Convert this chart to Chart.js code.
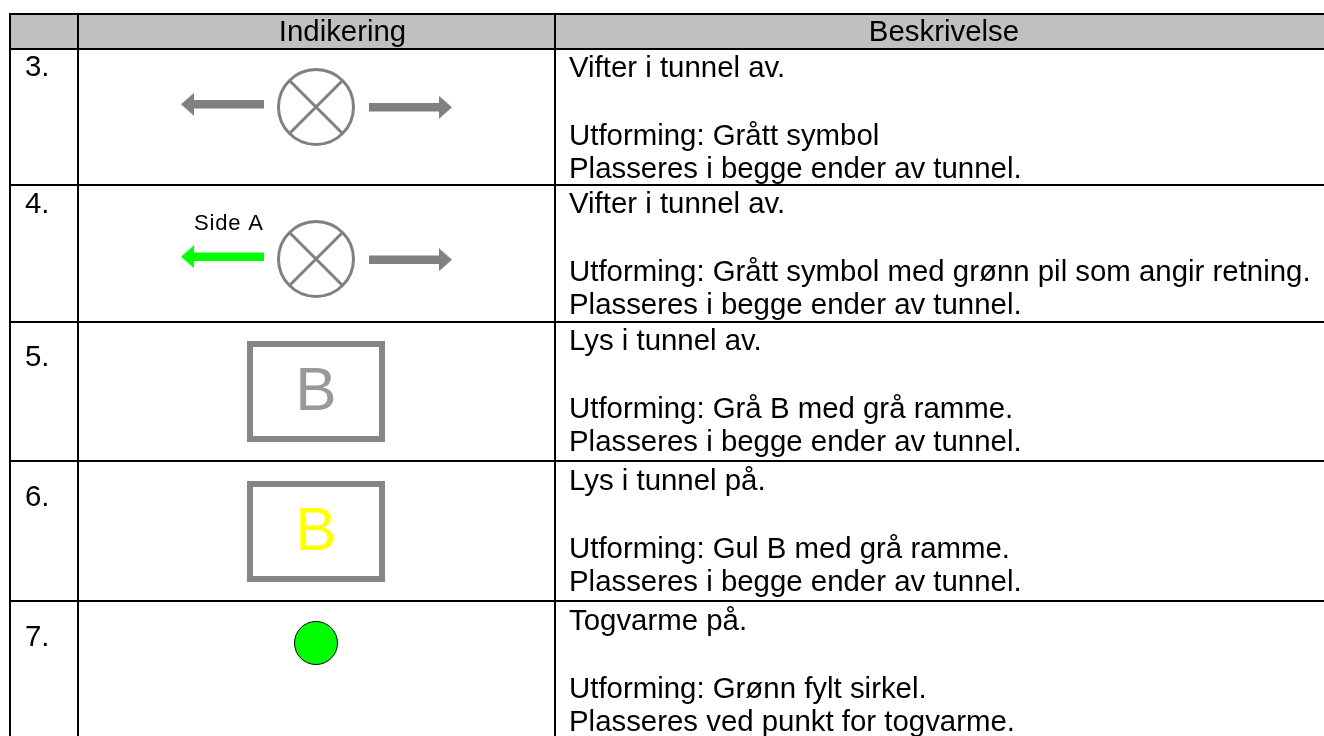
<!DOCTYPE html>
<html><head><meta charset="utf-8">
<style>html,body{margin:0;padding:0;background:#fff}canvas{display:block}</style>
<script src="https://cdn.jsdelivr.net/npm/chart.js@4"></script></head>
<body><div style="width:1324px;height:736px"><canvas id="c"></canvas></div>
<script>
const columnLines=[10,78,555];
const rowLines=[14,49,185,322,461,601];
const headerLabels=['Indikering','Beskrivelse'];
const headerCentres=[342.5,944];
const rowLabels=['3.','4.','5.','6.','7.'];
const rowLabelBaselines=[76,212.5,366,506,646];
const descriptions=[
 ['Vifter i tunnel av.','','Utforming: Grått symbol','Plasseres i begge ender av tunnel.'],
 ['Vifter i tunnel av.','','Utforming: Grått symbol med grønn pil som angir retning.','Plasseres i begge ender av tunnel.'],
 ['Lys i tunnel av.','','Utforming: Grå B med grå ramme.','Plasseres i begge ender av tunnel.'],
 ['Lys i tunnel på.','','Utforming: Gul B med grå ramme.','Plasseres i begge ender av tunnel.'],
 ['Togvarme på.','','Utforming: Grønn fylt sirkel.','Plasseres ved punkt for togvarme.']
];
const descriptionTops=[77,213,350,490,630];
const descriptionLineOffsets=[0,34,68,101];
const fanCentres=[{x:316,y:107},{x:316,y:259}];
const arrows=[
 {from:[264,104.3],to:[181,104.3],color:'#808080'},
 {from:[369,107.3],to:[452,107.3],color:'#808080'},
 {from:[264,256.7],to:[181,256.7],color:'#00ff00'},
 {from:[369,259.7],to:[452,259.7],color:'#808080'}
];
const frames=[{l:250,r:382,t:344,b:439},{l:250,r:382,t:484,b:579}];
const frameLetters=[{t:'B',x:316,y:410,c:'#999999'},{t:'B',x:316,y:550,c:'#ffff00'}];
const lampCentre=[{x:316,y:643}];
const sideLabel={t:'Side A',x:194,y:230};

function head(color,dir){
 const cv=document.createElement('canvas');cv.width=13;cv.height=23;
 const g=cv.getContext('2d');g.fillStyle=color;g.beginPath();
 if(dir>0){g.moveTo(0,0);g.lineTo(13,11.5);g.lineTo(0,23);}else{g.moveTo(13,0);g.lineTo(0,11.5);g.lineTo(13,23);}
 g.closePath();g.fill();return cv;
}
const datasets=[];
datasets.push({data:[{x:10,y:31.5},{x:1324,y:31.5}],borderColor:'#c0c0c0',borderWidth:34,pointRadius:0,borderCapStyle:'butt'});
arrows.forEach(a=>{
 const d=a.to[0]>a.from[0]?1:-1;
 datasets.push({data:[{x:a.from[0],y:a.from[1]},{x:a.to[0]-d*8,y:a.to[1]}],borderColor:a.color,borderWidth:8.5,pointRadius:0});
 datasets.push({data:[{x:a.to[0]-d*6.5,y:a.to[1]}],pointStyle:head(a.color,d),showLine:false});
});
datasets.push({data:fanCentres,pointStyle:'circle',pointRadius:37.5,pointBorderWidth:3,pointBorderColor:'#808080',pointBackgroundColor:'rgba(0,0,0,0)',showLine:false});
datasets.push({data:fanCentres,pointStyle:'crossRot',pointRadius:37.5,pointBorderWidth:3,pointBorderColor:'#808080',showLine:false});
frames.forEach(f=>datasets.push({data:[{x:(f.l+f.r)/2,y:f.t},{x:f.r,y:f.t},{x:f.r,y:f.b},{x:f.l,y:f.b},{x:f.l,y:f.t},{x:(f.l+f.r)/2,y:f.t}],borderColor:'#868686',borderWidth:6,pointRadius:0,borderJoinStyle:'miter'}));
datasets.push({data:lampCentre,pointStyle:'circle',pointRadius:21.5,pointBorderWidth:1,pointBorderColor:'#000',pointBackgroundColor:'#00ff00',showLine:false});

const textPlugin={id:'tableText',afterDraw(ch){
 const c=ch.ctx,X=ch.scales.x,Y=ch.scales.y;c.save();
 const FONT='"Liberation Sans",Arial,sans-serif';
 c.fillStyle='#000';c.textBaseline='alphabetic';c.font='29.4px '+FONT;
 c.textAlign='center';
 headerLabels.forEach((t,i)=>c.fillText(t,X.getPixelForValue(headerCentres[i]),Y.getPixelForValue(41)));
 c.textAlign='left';
 rowLabels.forEach((t,i)=>c.fillText(t,X.getPixelForValue(25),Y.getPixelForValue(rowLabelBaselines[i])));
 descriptions.forEach((ls,i)=>ls.forEach((t,j)=>{if(t)c.fillText(t,X.getPixelForValue(569),Y.getPixelForValue(descriptionTops[i]+descriptionLineOffsets[j]));}));
 c.font='62px '+FONT;c.textAlign='center';
 frameLetters.forEach(l=>{c.fillStyle=l.c;c.fillText(l.t,X.getPixelForValue(l.x),Y.getPixelForValue(l.y));});
 c.fillStyle='#000';c.font='22px '+FONT;c.textAlign='left';c.letterSpacing='0.8px';
 c.fillText(sideLabel.t,X.getPixelForValue(sideLabel.x),Y.getPixelForValue(sideLabel.y));
 c.restore();
}};
new Chart(document.getElementById('c'),{
 type:'line',
 data:{datasets},
 options:{responsive:true,maintainAspectRatio:false,animation:false,
  layout:{autoPadding:false,padding:{left:9,top:13,right:0,bottom:0}},
  plugins:{legend:{display:false},tooltip:{enabled:false}},
  elements:{line:{tension:0}},
  scales:{
   x:{type:'linear',min:9,max:1324,border:{display:false},ticks:{display:false},
      afterBuildTicks(s){s.ticks=columnLines.map(v=>({value:v}));},
      grid:{color:'#000',lineWidth:2,z:1,drawTicks:false}},
   y:{type:'linear',reverse:true,min:13,max:736,border:{display:false},ticks:{display:false},
      afterBuildTicks(s){s.ticks=rowLines.map(v=>({value:v}));},
      grid:{color:'#000',lineWidth:2,z:1,drawTicks:false}}
  }
 },
 plugins:[textPlugin]
});
</script></body></html>
